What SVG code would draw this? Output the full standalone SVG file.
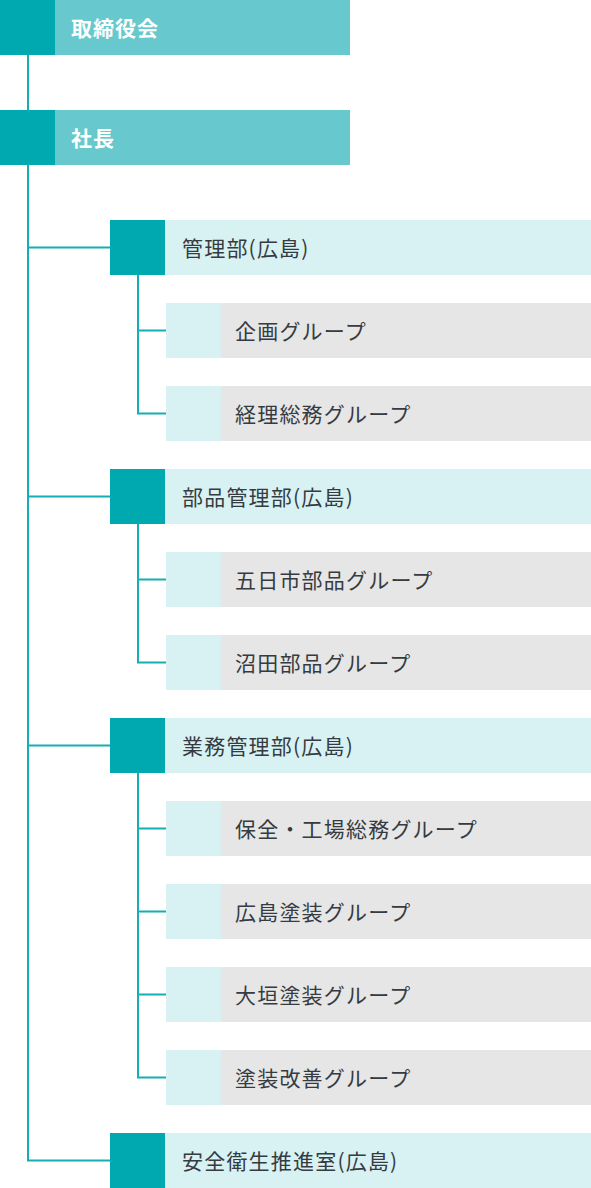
<svg xmlns="http://www.w3.org/2000/svg" width="591" height="1188" viewBox="0 0 591 1188">
<style>
.dk{fill:#00a8b0}
.md{fill:#67c9cd}
.lt{fill:#d8f2f3}
.gr{fill:#e6e6e6}
.t{font-family:"Noto Sans CJK JP","Noto Sans",sans-serif;font-size:21px;letter-spacing:1.2px;fill:#353b41;font-weight:400}
.tw{font-family:"Noto Sans CJK JP","Noto Sans",sans-serif;font-size:21px;letter-spacing:1px;fill:#ffffff;font-weight:bold}
.ln{fill:none;stroke:#14aeb4;stroke-width:2}
</style>
<g id="connectors">
<path class="ln" d="M28 55V110"/>
<path class="ln" d="M28 165V1160.5H110"/>
<path class="ln" d="M28 247.5H110"/>
<path class="ln" d="M28 496.5H110"/>
<path class="ln" d="M28 745.5H110"/>
<path class="ln" d="M138 275V413.5H166M138 330.5H166"/>
<path class="ln" d="M138 524V662.5H166M138 579.5H166"/>
<path class="ln" d="M138 773V1077.5H166M138 828.5H166M138 911.5H166M138 994.5H166"/>
</g>
<g id="board"><rect class="dk" x="0" y="0" width="55" height="55"/><rect class="md" x="55" y="0" width="295" height="55"/><text class="tw" x="71" y="36">取締役会</text></g>
<g id="president"><rect class="dk" x="0" y="110" width="55" height="55"/><rect class="md" x="55" y="110" width="295" height="55"/><text class="tw" x="71" y="146">社長</text></g>
<g id="kanri"><rect class="dk" x="110" y="220" width="55" height="55"/><rect class="lt" x="165" y="220" width="426" height="55"/><text class="t" x="182" y="256">管理部(広島)</text></g>
<g id="kikaku"><rect class="lt" x="166" y="303" width="55" height="55"/><rect class="gr" x="221" y="303" width="370" height="55"/><text class="t" x="235" y="339">企画グループ</text></g>
<g id="keiri"><rect class="lt" x="166" y="386" width="55" height="55"/><rect class="gr" x="221" y="386" width="370" height="55"/><text class="t" x="235" y="422">経理総務グループ</text></g>
<g id="buhin"><rect class="dk" x="110" y="469" width="55" height="55"/><rect class="lt" x="165" y="469" width="426" height="55"/><text class="t" x="182" y="505">部品管理部(広島)</text></g>
<g id="itsukaichi"><rect class="lt" x="166" y="552" width="55" height="55"/><rect class="gr" x="221" y="552" width="370" height="55"/><text class="t" x="235" y="588">五日市部品グループ</text></g>
<g id="numata"><rect class="lt" x="166" y="635" width="55" height="55"/><rect class="gr" x="221" y="635" width="370" height="55"/><text class="t" x="235" y="671">沼田部品グループ</text></g>
<g id="gyomu"><rect class="dk" x="110" y="718" width="55" height="55"/><rect class="lt" x="165" y="718" width="426" height="55"/><text class="t" x="182" y="754">業務管理部(広島)</text></g>
<g id="hozen"><rect class="lt" x="166" y="801" width="55" height="55"/><rect class="gr" x="221" y="801" width="370" height="55"/><text class="t" x="235" y="837">保全・工場総務グループ</text></g>
<g id="hiroshima-tosou"><rect class="lt" x="166" y="884" width="55" height="55"/><rect class="gr" x="221" y="884" width="370" height="55"/><text class="t" x="235" y="920">広島塗装グループ</text></g>
<g id="ogaki-tosou"><rect class="lt" x="166" y="967" width="55" height="55"/><rect class="gr" x="221" y="967" width="370" height="55"/><text class="t" x="235" y="1003">大垣塗装グループ</text></g>
<g id="tosou-kaizen"><rect class="lt" x="166" y="1050" width="55" height="55"/><rect class="gr" x="221" y="1050" width="370" height="55"/><text class="t" x="235" y="1086">塗装改善グループ</text></g>
<g id="anzen"><rect class="dk" x="110" y="1133" width="55" height="55"/><rect class="lt" x="165" y="1133" width="426" height="55"/><text class="t" x="182" y="1169">安全衛生推進室(広島)</text></g>
</svg>
